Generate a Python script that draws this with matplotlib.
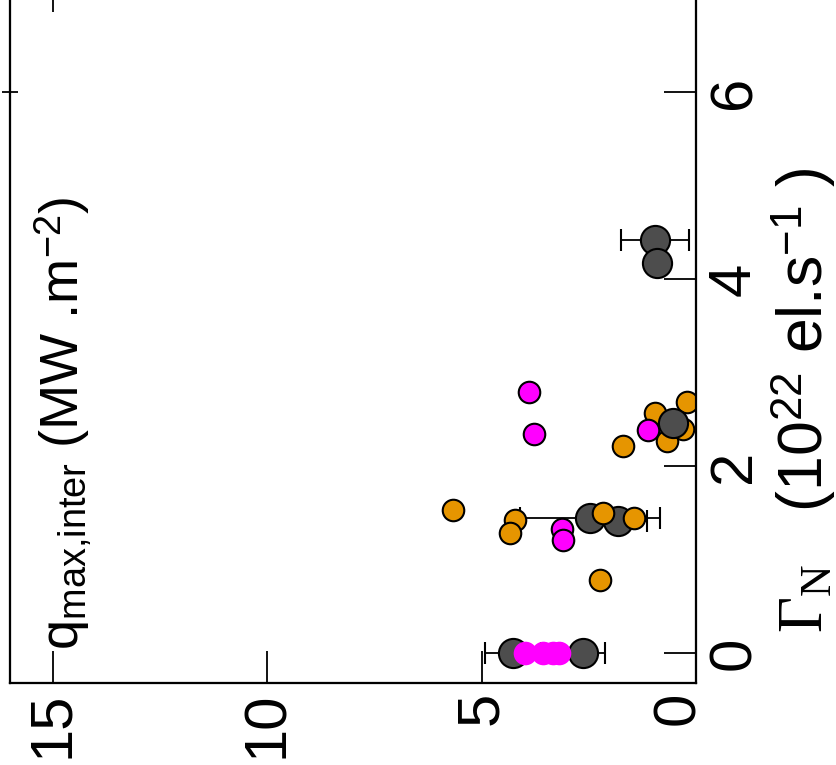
import matplotlib.pyplot as plt
from matplotlib.transforms import ScaledTranslation

# Datos (q en MW.m^-2, gamma en 10^22 el.s^-1)
# puntos grises con barra de error en q
gris_q = [4.27, 2.64, 2.47, 1.82, 0.96, 0.91]
gris_gamma = [0.0, 0.0, 1.44, 1.41, 4.42, 4.17]
gris_err = [0.65, 0.51, 1.63, 0.68, 0.80, 0.0]

# punto gris dibujado encima de los demas
gris2_q = [0.54]
gris2_gamma = [2.46]

naranja_q = [5.67, 4.22, 4.34, 2.17, 1.45, 2.24, 1.70, 0.96, 0.68, 0.30, 0.21]
naranja_gamma = [1.53, 1.42, 1.28, 1.50, 1.45, 0.78, 2.21, 2.57, 2.27, 2.40, 2.69]

magenta_q = [3.90, 3.78, 1.12, 3.13, 3.10]
magenta_gamma = [2.79, 2.34, 2.39, 1.33, 1.21]

# grupo magenta en gamma = 0
magenta0_q = [3.99, 3.57, 3.33, 3.20]
magenta0_gamma = [0.0, 0.0, 0.0, 0.0]

ticks_q = [0, 5, 10, 15]
ticks_gamma = [0, 2, 4, 6]

lim_q = (16.0, 0)
lim_gamma = (-0.32, 7.2)

plt.rcParams['font.family'] = ['Liberation Sans', 'DejaVu Sans']
plt.rcParams['mathtext.fontset'] = 'custom'
plt.rcParams['mathtext.rm'] = 'Liberation Serif'
plt.rcParams['mathtext.it'] = 'Liberation Serif:italic'
plt.rcParams['mathtext.sf'] = 'Liberation Sans'

fig = plt.figure(figsize=(8.37, 7.65), dpi=100)
# la figura original esta girada 90 grados: q va en horizontal (invertido)
ax = fig.add_axes([10 / 837, (765 - 683) / 765, 686 / 837, 703 / 765])

# marcas sueltas que se ven arriba y a la izquierda (ejes gemelos)
arriba = ax.twiny()
izq = ax.twinx()

ax.errorbar(gris_q, gris_gamma, xerr=gris_err, fmt='o', color='black',
            markerfacecolor='#4d4d4d', markeredgecolor='black', markersize=21,
            markeredgewidth=1.5, elinewidth=1.3, capsize=8, capthick=1.3, zorder=2)
ax.plot(naranja_q, naranja_gamma, 'o', markerfacecolor='#e69500',
        markeredgecolor='black', markersize=15.5, markeredgewidth=1.5, zorder=3)
ax.plot(magenta_q, magenta_gamma, 'o', markerfacecolor='#ff00ff',
        markeredgecolor='black', markersize=15.5, markeredgewidth=1.5, zorder=4)
ax.plot(magenta0_q, magenta0_gamma, 'o', markerfacecolor='#ff00ff',
        markeredgecolor='#ff00ff', markersize=15.5, markeredgewidth=1.5, zorder=4)
ax.plot(gris2_q, gris2_gamma, 'o', markerfacecolor='#4d4d4d',
        markeredgecolor='black', markersize=21, markeredgewidth=1.5, zorder=5)

ax.set_xlim(*lim_q)
ax.set_ylim(*lim_gamma)
ax.set_xticks(ticks_q)
ax.set_yticks(ticks_gamma)
ax.xaxis.set_ticks_position('bottom')
ax.yaxis.set_ticks_position('right')
ax.yaxis.set_label_position('right')
ax.tick_params(axis='both', direction='in', length=23, width=1.3,
               top=False, bottom=True, left=False, right=True,
               labelleft=False, labelright=True, labelbottom=True, labelsize=43)
ax.tick_params(axis='x', pad=6)
ax.tick_params(axis='y', pad=8)
for lab in ax.get_xticklabels():
    lab.set_rotation(90)
for lab in ax.get_yticklabels():
    lab.set_rotation(90)
    lab.set_verticalalignment('center')
# el "0" de q esta algo desplazado en el original
lab0 = ax.get_xticklabels()[0]
lab0.set_transform(lab0.get_transform() + ScaledTranslation(-0.17, 0, fig.dpi_scale_trans))
for sp in ax.spines.values():
    sp.set_linewidth(1.5)

arriba.set_xlim(*lim_q)
arriba.set_xticks([ticks_q[-1]])
arriba.tick_params(direction='in', length=23, width=1.3, labeltop=False,
                   top=True, bottom=False)
izq.set_ylim(*lim_gamma)
izq.set_yticks([ticks_gamma[-1]])
izq.yaxis.set_ticks_position('left')
izq.tick_params(direction='inout', length=12, width=1.3, labelleft=False,
                labelright=False, left=True, right=False)
for sec in (arriba, izq):
    for sp in sec.spines.values():
        sp.set_linewidth(1.5)

# etiquetas de los ejes (giradas)
fig.text(63 / 837, (765 - 650) / 765,
         r'q$_{\mathsf{max{,}inter}}$ (MW .m$^{\mathsf{-2}}$)',
         rotation=90, ha='center', va='bottom', fontsize=39)
fig.text(804 / 837, (765 - 400) / 765,
         r'$\mathrm{\Gamma_N}$   (10$^{\mathsf{22}}$ el.s$^{\mathsf{-1}}$ )',
         rotation=90, ha='center', va='center', fontsize=45)

fig.savefig('out.png', dpi=100)
